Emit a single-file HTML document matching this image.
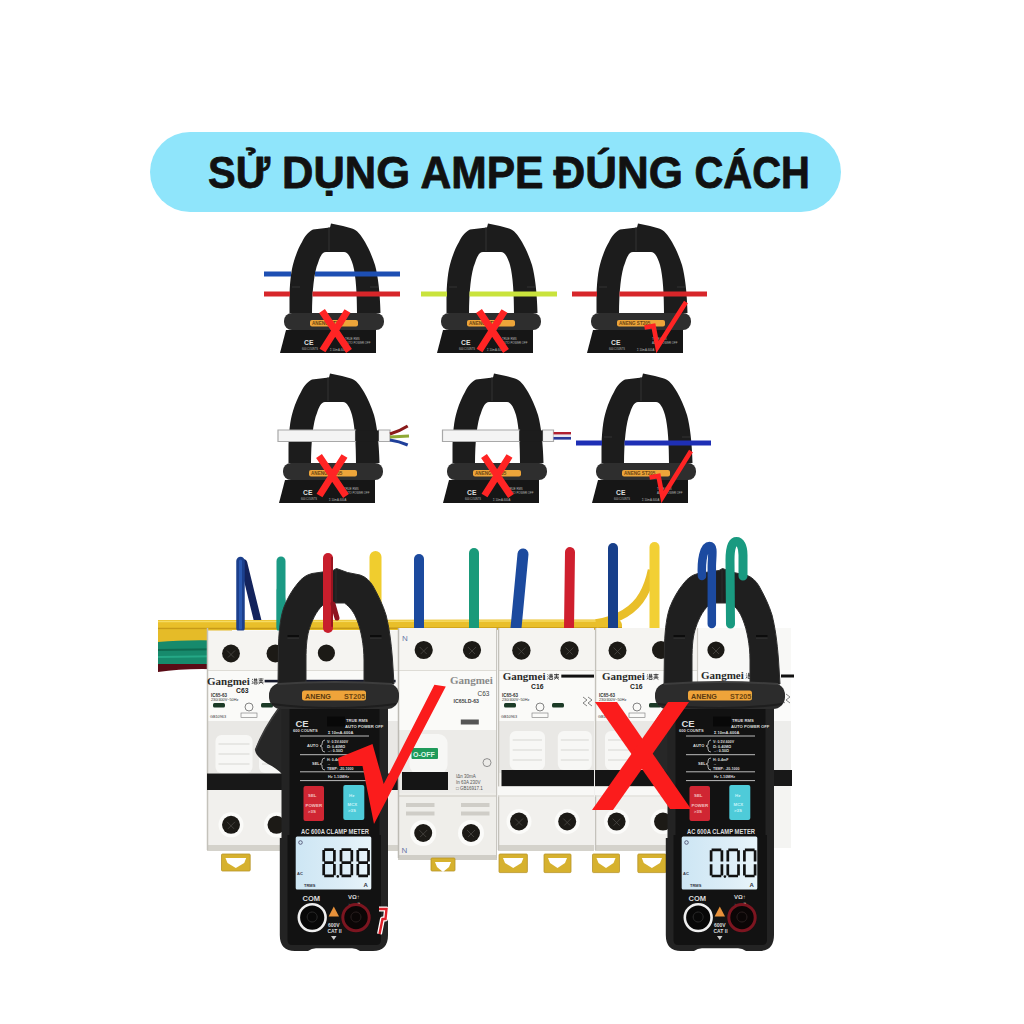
<!DOCTYPE html>
<html>
<head>
<meta charset="utf-8">
<style>
html,body{margin:0;padding:0;background:#fff;}
body{width:1024px;height:1024px;position:relative;overflow:hidden;font-family:"Liberation Sans",sans-serif;}
#pill{position:absolute;left:150px;top:132px;width:691px;height:80px;border-radius:40px;background:#8fe5fb;}
svg{position:absolute;left:0;top:0;}
</style>
</head>
<body>
<div id="pill"></div>
<svg width="1024" height="1024" viewBox="0 0 1024 1024">
<defs>
<linearGradient id="lcdg" x1="0" y1="0" x2="1" y2="0"><stop offset="0" stop-color="#cde6f4"/><stop offset="0.6" stop-color="#dcedf7"/><stop offset="1" stop-color="#e8f4fa"/></linearGradient>
<!-- small clamp icon, page coords of icon 1 -->
<g id="ic">
  <path d="M289.5 313 L289.5 300 C289.5 285 291 270 294 261 C296.5 253 299 247 302 242 C305 236 308 232 313 229.5 L330 227.5 L331 223.5 L343 226 L352 228.5 C357 230 361 235 365 242 C369 249 372 256 375 265 C378 276 380 292 380.5 313 Z" fill="#1c1c1c"/>
  <path d="M312 314 C312 292 314 272 318 263 C320 257 322 252 326 252 L344 252 C348 252 351 258 353 265 C356 276 357 295 357 314 Z" fill="#fff"/>
  <path d="M286 330 L376 330 L376 353 L280 353 Z" fill="#161616"/>
  <rect x="284" y="313" width="100" height="17" rx="8" fill="#2e2e2e"/>
  <rect x="310" y="320" width="48" height="6.5" rx="2" fill="#eda53a"/>
  <text x="312" y="325.3" font-size="4.6" fill="#6a4412" font-weight="bold" font-family="Liberation Sans">ANENG   ST205</text>
  <path d="M329 227 L329 251" stroke="#3a3a3a" stroke-width="0.8"/>
  <path d="M292 287 L300 287 M370 287 L378 287" stroke="#333" stroke-width="1"/>
  <text x="304" y="345" font-size="6.8" fill="#ddd" font-weight="bold" font-family="Liberation Sans">CE</text>
  <text x="302" y="350" font-size="2.6" fill="#bbb" font-family="Liberation Sans">600 COUNTS</text>
  <text x="345" y="340" font-size="2.8" fill="#bbb" font-family="Liberation Sans">TRUE RMS</text>
  <text x="345" y="344" font-size="2.8" fill="#bbb" font-family="Liberation Sans">AUTO POWER OFF</text>
  <text x="330" y="350.5" font-size="2.8" fill="#bbb" font-family="Liberation Sans">Σ 10mA-600A</text>
</g>
</defs>
<g font-family="Liberation Sans" font-weight="bold" font-size="44" fill="#111" stroke="#111" stroke-width="0.8" stroke-linejoin="round">
<text x="208" y="188" textLength="62" lengthAdjust="spacingAndGlyphs">SỬ</text>
<text x="282" y="188" textLength="128" lengthAdjust="spacingAndGlyphs">DỤNG</text>
<text x="420.5" y="188" textLength="123" lengthAdjust="spacingAndGlyphs">AMPE</text>
<text x="553.5" y="188" textLength="129.5" lengthAdjust="spacingAndGlyphs">ĐÚNG</text>
<text x="694.5" y="188" textLength="115.5" lengthAdjust="spacingAndGlyphs">CÁCH</text>
</g>
<!-- row 1 -->
<use href="#ic"/>
<path d="M264 274 H291 M315 274 H400" stroke="#1d4fb3" stroke-width="5"/>
<path d="M264 294 H290 M312.5 294 H400" stroke="#d7262a" stroke-width="5"/>
<use href="#ic" transform="translate(157,0)"/>
<path d="M421 294 H447 M469.5 294 H557" stroke="#c9e33c" stroke-width="5"/>
<use href="#ic" transform="translate(307,0)"/>
<path d="M572 294 H597 M619.5 294 H707" stroke="#d7262a" stroke-width="5"/>
<!-- row 2 -->
<use href="#ic" transform="translate(-1,150)"/>
<use href="#ic" transform="translate(163,150)"/>
<use href="#ic" transform="translate(312,150)"/>
<path d="M576 443 H602 M624.5 443 H711" stroke="#1e2fb5" stroke-width="5"/>


<!-- row 2 cables -->
<g>
<path d="M278 430 H355.5 V441.5 H278 Z M378.5 430 H390 V441.5 H378.5 Z" fill="#f4f4f4" stroke="#a8a8a8" stroke-width="1.2"/><rect x="355.3" y="430.4" width="23.4" height="10.7" fill="#1c1c1c"/>
<path d="M390 434 C397 432 403 429 407.7 426" stroke="#8a1a1a" stroke-width="3" fill="none"/>
<path d="M390 437 L409 436" stroke="#8fa834" stroke-width="3" fill="none"/>
<path d="M390 440 C397 441 403 443 407.7 445" stroke="#1f3f9a" stroke-width="3" fill="none"/>
<path d="M442.5 430 H519.5 V441.5 H442.5 Z M542.5 430 H553.5 V441.5 H542.5 Z" fill="#f4f4f4" stroke="#a8a8a8" stroke-width="1.2"/><rect x="519.3" y="430.4" width="23.4" height="10.7" fill="#1c1c1c"/>
<rect x="553.5" y="432" width="17.5" height="7.5" fill="#e8e8f0"/>
<rect x="553.5" y="432" width="17.5" height="2.4" fill="#b02030"/>
<rect x="553.5" y="437" width="17.5" height="2.6" fill="#2a3a9a"/>
</g>
<!-- small X marks -->
<g stroke="#ff2424" stroke-width="7" fill="none">
<path d="M322 311 L349 351 M347.5 311 L322.5 350.5"/>
<path d="M479 311 L506 351 M504.5 311 L479.5 350.5"/>
<path d="M319 456 L346 496 M344.5 456 L319.5 495.5"/>
<path d="M484 456 L511 496 M509.5 456 L484.5 495.5"/>
</g>
<g stroke="#ff2424" stroke-width="4.6" fill="none" stroke-linejoin="miter" stroke-miterlimit="3">
<path d="M644.5 327.5 L653.5 326 L657.5 347 L686 302"/>
<path d="M649.5 477.5 L658.5 476 L662.5 497 L691 451"/>
</g>
<!-- ================= PHOTO ================= -->
<g id="photo">
<!-- wire bundle left -->
<path d="M158 624 L232 624 L232 664 L158 664 Z" fill="#e5bb28"/>
<path d="M158 642 Q190 639 232 641 L232 664 L158 664 Z" fill="#178a6c"/>
<path d="M158 650 L232 649" stroke="#0f6a50" stroke-width="2"/>
<path d="M158 657 L232 656" stroke="#25a886" stroke-width="2"/>
<path d="M158 664 L232 664 L232 670 Q190 667 158 672 Z" fill="#5a0b16"/>
<path d="M160 628 L232 628" stroke="#c9971a" stroke-width="1.5" stroke-dasharray="3 3"/>
<path d="M243.5 563 L258 622" stroke="#13235c" stroke-width="7.5" stroke-linecap="round" fill="none"/>
<!-- yellow horizontal wire along top -->
<path d="M158 620 L616 619.5 C620 619.5 622 622 622 626 L622 630 L158 630 Z" fill="#e9bf2a"/>
<path d="M158 621.5 L612 621" stroke="#f6db62" stroke-width="1.5"/>
<path d="M158 628.5 L622 628" stroke="#c79a18" stroke-width="1.5"/>
<!-- yellow curve -->
<path d="M596 623.5 C616 620 634 611 643 595 C647 588 650 580 652 570" stroke="#e9bf2a" stroke-width="8.5" fill="none"/>
<!-- vertical wires -->
<g fill="none" stroke-linecap="round">
<path d="M240.5 628 L240.5 561" stroke="#1b3f8c" stroke-width="8.5"/>
<path d="M240.5 628 L240.5 561" stroke="#2a58b0" stroke-width="3"/>
<path d="M281 628 L281 561" stroke="#1b9a84" stroke-width="9"/><path d="M276.6 628 L276.6 590 L282 570 L288.5 628 Z" fill="#1b9a84" stroke="none"/>
<path d="M375.5 628 L375.5 557" stroke="#f0cd2e" stroke-width="12"/>
<path d="M419 628 L419 559" stroke="#1c4a9e" stroke-width="10"/>
<path d="M474 628 L474 553" stroke="#1a9a7a" stroke-width="10"/>
<path d="M516 628 L523 554" stroke="#1c4a9e" stroke-width="11"/>
<path d="M569 628 L570 552" stroke="#cf1f2e" stroke-width="10"/>
<path d="M613 628 L613 548" stroke="#173f8a" stroke-width="10"/>
<path d="M654.5 628 L654.5 547" stroke="#f2d035" stroke-width="10"/>
</g>
<!-- breakers -->
<g id="breakers">
<rect x="207" y="630.5" width="191" height="217.5" fill="#f5f4f1"/><rect x="207" y="670" width="191" height="51" fill="#fafaf8"/><line x1="207" y1="670.5" x2="398" y2="670.5" stroke="#dedcd6" stroke-width="1"/><rect x="207" y="721" width="191" height="52" fill="#e9e8e5"/><rect x="207" y="786" width="191" height="62" fill="#f1f0ed"/><rect x="207" y="845" width="191" height="6" fill="#d4d2cb"/><line x1="207.5" y1="628" x2="207.5" y2="850" stroke="#c4c2bb" stroke-width="1.5"/><rect x="215.5" y="735" width="37" height="38" rx="6" fill="#f7f7f5"/><line x1="218.5" y1="744" x2="249.5" y2="744" stroke="#dcdcd8" stroke-width="1.2"/><line x1="218.5" y1="754" x2="249.5" y2="754" stroke="#dcdcd8" stroke-width="1.2"/><line x1="218.5" y1="764" x2="249.5" y2="764" stroke="#dcdcd8" stroke-width="1.2"/><rect x="259" y="735" width="37" height="38" rx="6" fill="#f7f7f5"/><line x1="262" y1="744" x2="293" y2="744" stroke="#dcdcd8" stroke-width="1.2"/><line x1="262" y1="754" x2="293" y2="754" stroke="#dcdcd8" stroke-width="1.2"/><line x1="262" y1="764" x2="293" y2="764" stroke="#dcdcd8" stroke-width="1.2"/><rect x="303" y="735" width="37" height="38" rx="6" fill="#f7f7f5"/><line x1="306" y1="744" x2="337" y2="744" stroke="#dcdcd8" stroke-width="1.2"/><line x1="306" y1="754" x2="337" y2="754" stroke="#dcdcd8" stroke-width="1.2"/><line x1="306" y1="764" x2="337" y2="764" stroke="#dcdcd8" stroke-width="1.2"/><rect x="347" y="735" width="37" height="38" rx="6" fill="#f7f7f5"/><line x1="350" y1="744" x2="381" y2="744" stroke="#dcdcd8" stroke-width="1.2"/><line x1="350" y1="754" x2="381" y2="754" stroke="#dcdcd8" stroke-width="1.2"/><line x1="350" y1="764" x2="381" y2="764" stroke="#dcdcd8" stroke-width="1.2"/><rect x="207" y="773.5" width="191" height="16.5" fill="#181818"/><rect x="398" y="628" width="99" height="229" fill="#f6f5f2"/><rect x="398" y="670" width="99" height="60" fill="#fafaf8"/><line x1="398" y1="670.5" x2="497" y2="670.5" stroke="#dedcd6" stroke-width="1"/><rect x="398" y="730" width="99" height="63" fill="#ecebe8"/><rect x="409.5" y="734" width="38" height="40" rx="9" fill="#f7f7f5"/><rect x="411.5" y="748" width="26.5" height="11" rx="1" fill="#1f9a5a"/><text x="413" y="756.8" font-family="Liberation Sans" font-weight="bold" font-size="7" fill="#dff5e6">O-OFF</text><rect x="402" y="772" width="46" height="18" fill="#151515"/><rect x="398" y="793" width="99" height="63" fill="#efeeea"/><line x1="398" y1="796" x2="497" y2="796" stroke="#dcdad4" stroke-width="2"/><g fill="#cfcdc7"><rect x="406" y="803" width="28.5" height="4"/><rect x="406" y="811.5" width="28.5" height="4"/><rect x="461" y="803" width="28.5" height="4"/><rect x="461" y="811.5" width="28.5" height="4"/></g><circle cx="423.2" cy="833" r="13" fill="#fbfbf9"/><circle cx="471" cy="833" r="13" fill="#fbfbf9"/><rect x="398" y="855" width="99" height="5" fill="#d0cec7"/><line x1="398.5" y1="628" x2="398.5" y2="858" stroke="#bdbbb4" stroke-width="1.5"/><line x1="496.5" y1="628" x2="496.5" y2="858" stroke="#c8c6c0" stroke-width="1"/><rect x="460.8" y="719.5" width="18" height="5" fill="#555"/><circle cx="487" cy="762.6" r="4" fill="none" stroke="#777" stroke-width="0.8"/><g font-family="Liberation Sans" font-size="4.5" fill="#555"><text x="456" y="778">IΔn 30mA</text><text x="456" y="784">In 63A 230V</text><text x="456" y="790">□  GB16917.1</text></g><g font-family="Liberation Sans" font-size="8" fill="#6a78a8"><text x="402" y="641">N</text><text x="401.5" y="853">N</text></g><text x="477.5" y="696" font-family="Liberation Sans" font-size="6.5" fill="#444">C63</text><text x="453.6" y="703" font-family="Liberation Sans" font-weight="bold" font-size="5.2" fill="#444">IC65LD-63</text><rect x="498" y="628" width="96" height="220" fill="#f5f4f1"/><rect x="498" y="670" width="96" height="51" fill="#fafaf8"/><line x1="498" y1="670.5" x2="594" y2="670.5" stroke="#dedcd6" stroke-width="1"/><rect x="498" y="721" width="96" height="52" fill="#e9e8e5"/><rect x="498" y="786" width="96" height="62" fill="#f1f0ed"/><rect x="498" y="845" width="96" height="6" fill="#d4d2cb"/><line x1="498.5" y1="628" x2="498.5" y2="850" stroke="#c4c2bb" stroke-width="1.5"/><rect x="509.7" y="731" width="35.3" height="39" rx="6" fill="#f7f7f5"/><line x1="512.7" y1="740" x2="542.0" y2="740" stroke="#dcdcd8" stroke-width="1.2"/><line x1="512.7" y1="750" x2="542.0" y2="750" stroke="#dcdcd8" stroke-width="1.2"/><line x1="512.7" y1="760" x2="542.0" y2="760" stroke="#dcdcd8" stroke-width="1.2"/><rect x="557.8" y="731" width="34" height="39" rx="6" fill="#f7f7f5"/><line x1="560.8" y1="740" x2="588.8" y2="740" stroke="#dcdcd8" stroke-width="1.2"/><line x1="560.8" y1="750" x2="588.8" y2="750" stroke="#dcdcd8" stroke-width="1.2"/><line x1="560.8" y1="760" x2="588.8" y2="760" stroke="#dcdcd8" stroke-width="1.2"/><rect x="501.5" y="770" width="92.5" height="16.4" fill="#151515"/><rect x="498" y="786.4" width="96" height="9" fill="#f8f8f6"/><line x1="498" y1="796" x2="594" y2="796" stroke="#dddbd5" stroke-width="1.2"/><rect x="595" y="628" width="102" height="220" fill="#f5f4f1"/><rect x="595" y="670" width="102" height="51" fill="#fafaf8"/><line x1="595" y1="670.5" x2="697" y2="670.5" stroke="#dedcd6" stroke-width="1"/><rect x="595" y="721" width="102" height="52" fill="#e9e8e5"/><rect x="595" y="786" width="102" height="62" fill="#f1f0ed"/><rect x="595" y="845" width="102" height="6" fill="#d4d2cb"/><line x1="595.5" y1="628" x2="595.5" y2="850" stroke="#c4c2bb" stroke-width="1.5"/><rect x="605" y="731" width="35" height="39" rx="6" fill="#f7f7f5"/><line x1="608" y1="740" x2="637" y2="740" stroke="#dcdcd8" stroke-width="1.2"/><line x1="608" y1="750" x2="637" y2="750" stroke="#dcdcd8" stroke-width="1.2"/><line x1="608" y1="760" x2="637" y2="760" stroke="#dcdcd8" stroke-width="1.2"/><rect x="653" y="731" width="35" height="39" rx="6" fill="#f7f7f5"/><line x1="656" y1="740" x2="685" y2="740" stroke="#dcdcd8" stroke-width="1.2"/><line x1="656" y1="750" x2="685" y2="750" stroke="#dcdcd8" stroke-width="1.2"/><line x1="656" y1="760" x2="685" y2="760" stroke="#dcdcd8" stroke-width="1.2"/><rect x="595" y="770" width="102" height="16.4" fill="#151515"/><rect x="595" y="786.4" width="102" height="9" fill="#f8f8f6"/><line x1="595" y1="796" x2="697" y2="796" stroke="#dddbd5" stroke-width="1.2"/><rect x="697" y="628" width="94" height="220" fill="#f8f8f6"/><rect x="697" y="670" width="94" height="51" fill="#fbfbfa"/><rect x="697" y="721" width="94" height="52" fill="#ededeb"/><rect x="697" y="786" width="94" height="62" fill="#f4f4f2"/><line x1="697.5" y1="628" x2="697.5" y2="850" stroke="#cfcdc7" stroke-width="1.2"/><rect x="697" y="770" width="95" height="16" fill="#181818"/><rect x="781" y="674.5" width="13" height="3" fill="#111"/><g fill="#fbfbf9"><circle cx="231" cy="824.8" r="12.5"/><circle cx="276.5" cy="824.8" r="12.5"/><circle cx="519" cy="821.5" r="12.5"/><circle cx="567.2" cy="821.5" r="12.5"/><circle cx="616.6" cy="821.6" r="12.5"/><circle cx="663" cy="821.6" r="12.5"/></g><g fill="#1c1a16"><circle cx="231" cy="653.5" r="8.9"/><circle cx="275.4" cy="653.5" r="8.9"/><circle cx="326.4" cy="653" r="8.6"/><circle cx="373" cy="653" r="8.6"/><circle cx="423.7" cy="650" r="9.1"/><circle cx="472" cy="650" r="9.1"/><circle cx="521.4" cy="650.5" r="9.2"/><circle cx="569.5" cy="650.5" r="9.2"/><circle cx="617.5" cy="650.5" r="9"/><circle cx="661" cy="650" r="9"/><circle cx="716" cy="650" r="8.6"/><circle cx="231" cy="824.8" r="9"/><circle cx="276.5" cy="824.8" r="9"/><circle cx="423.2" cy="833" r="9"/><circle cx="471" cy="833" r="9"/><circle cx="519" cy="821.5" r="9"/><circle cx="567.2" cy="821.5" r="9"/><circle cx="616.6" cy="821.6" r="9"/><circle cx="663" cy="821.6" r="9"/></g><g stroke="#4a4844" stroke-width="0.8" fill="none"><path d="M227 650.5 L234 657.5 M228 657.5 L235 650.5"/><path d="M419.7 647 L426.7 654 M420.7 654 L427.7 647"/><path d="M468 647 L475 654 M469 654 L476 647"/><path d="M517.4 647.5 L524.4 654.5 M518.4 654.5 L525.4 647.5"/><path d="M565.5 647.5 L572.5 654.5 M566.5 654.5 L573.5 647.5"/><path d="M613.5 647.5 L620.5 654.5 M614.5 654.5 L621.5 647.5"/><path d="M712 647 L719 654 M713 654 L720 647"/><path d="M227 821.8 L234 828.8 M228 828.8 L235 821.8"/><path d="M419.2 830 L426.2 837 M420.2 837 L427.2 830"/><path d="M467 830 L474 837 M468 837 L475 830"/><path d="M515 818.5 L522 825.5 M516 825.5 L523 818.5"/><path d="M563.2 818.5 L570.2 825.5 M564.2 825.5 L571.2 818.5"/><path d="M612.6 818.6 L619.6 825.6 M613.6 825.6 L620.6 818.6"/></g><g fill="#d6b12e" stroke="#b8942a" stroke-width="0.8"><rect x="221.5" y="854" width="28.7" height="17" rx="1"/><rect x="431" y="858" width="24" height="13" rx="1"/><rect x="499" y="854" width="28.4" height="18.6" rx="1"/><rect x="544" y="854" width="27" height="18.6" rx="1"/><rect x="592.5" y="854" width="27" height="18.6" rx="1"/><rect x="637.8" y="854" width="28.2" height="18.6" rx="1"/></g><g fill="#fff"><path d="M225.5 858 L246.2 858 L244.2 863 L235.8 868 L227.5 863 Z"/><path d="M435.0 862 L451.0 862 L449.0 867 L443.0 872 L437.0 867 Z"/><path d="M503.0 858 L523.4 858 L521.4 863 L513.2 868 L505.0 863 Z"/><path d="M548.0 858 L567.0 858 L565.0 863 L557.5 868 L550.0 863 Z"/><path d="M596.5 858 L615.5 858 L613.5 863 L606.0 868 L598.5 863 Z"/><path d="M641.8 858 L662.0 858 L660.0 863 L651.9 868 L643.8 863 Z"/></g><g font-family="Liberation Serif" font-weight="bold" fill="#2a2a2a" font-size="11">
<text x="207" y="684.5">Gangmei</text><text x="502.7" y="679.8">Gangmei</text><text x="602" y="680">Gangmei</text><text x="701" y="679">Gangmei</text>
</g>
<path d="M252.0 679l1 0.8M251.8 681l1 0.6M251.9 684l1.2 -1.8M253.9 679.6h3.4M253.7 681h3.8M254.7 678.3v2.7M256.3 678.3v2.7M254.1 682.2h3v1.8h-3zM258.5 679h5M258.9 680.6h4.2M258.5 682.2h5M261.0 678.2v4M261.0 682.2l-2.4 1.8M261.0 682.2l2.4 1.8M547.5 674.5l1 0.8M547.3 676.5l1 0.6M547.4 679.5l1.2 -1.8M549.4 675.1h3.4M549.2 676.5h3.8M550.2 673.8v2.7M551.8 673.8v2.7M549.6 677.7h3v1.8h-3zM554 674.5h5M554.4 676.1h4.2M554 677.7h5M556.5 673.7v4M556.5 677.7l-2.4 1.8M556.5 677.7l2.4 1.8M647.0 674.5l1 0.8M646.8 676.5l1 0.6M646.9 679.5l1.2 -1.8M648.9 675.1h3.4M648.7 676.5h3.8M649.7 673.8v2.7M651.3 673.8v2.7M649.1 677.7h3v1.8h-3zM653.5 674.5h5M653.9 676.1h4.2M653.5 677.7h5M656.0 673.7v4M656.0 677.7l-2.4 1.8M656.0 677.7l2.4 1.8M746.0 673.5l1 0.8M745.8 675.5l1 0.6M745.9 678.5l1.2 -1.8M747.9 674.1h3.4M747.7 675.5h3.8M748.7 672.8v2.7M750.3 672.8v2.7M748.1 676.7h3v1.8h-3zM752.5 673.5h5M752.9 675.1h4.2M752.5 676.7h5M755.0 672.7v4M755.0 676.7l-2.4 1.8M755.0 676.7l2.4 1.8" stroke="#333" stroke-width="0.8" fill="none"/><text x="450" y="683.6" font-family="Liberation Serif" font-weight="bold" font-size="11" fill="#8a8a8a">Gangmei</text><rect x="264.6" y="679.8" width="131" height="2.6" fill="#15182a"/><rect x="561.3" y="674.6" width="32.7" height="3" fill="#111"/><g font-family="Liberation Sans" fill="#333"><text x="236" y="692.5" font-size="6.8" font-weight="bold" fill="#222">C63</text><text x="211" y="696.5" font-size="4.5" font-weight="bold">IC65-63</text><text x="211" y="701" font-size="3.8">230/400V~50Hz</text><rect x="213" y="703" width="12" height="4.5" rx="1.5" fill="#1b3a26"/><rect x="261" y="703" width="12" height="4.5" rx="1.5" fill="#1b3a26"/><circle cx="249" cy="707" r="4" fill="none" stroke="#666" stroke-width="0.8"/><rect x="241" y="713" width="16" height="4.5" fill="none" stroke="#777" stroke-width="0.6"/><text x="210" y="718" font-size="3.8">GB10963</text><text x="531" y="688.5" font-size="6.8" font-weight="bold" fill="#222">C16</text><text x="502" y="696.5" font-size="4.5" font-weight="bold">IC65-63</text><text x="502" y="701" font-size="3.8">230/400V~50Hz</text><rect x="504" y="703" width="12" height="4.5" rx="1.5" fill="#1b3a26"/><rect x="552" y="703" width="12" height="4.5" rx="1.5" fill="#1b3a26"/><circle cx="540" cy="707" r="4" fill="none" stroke="#666" stroke-width="0.8"/><rect x="532" y="713" width="16" height="4.5" fill="none" stroke="#777" stroke-width="0.6"/><text x="501" y="718" font-size="3.8">GB10963</text><text x="630" y="688.5" font-size="6.8" font-weight="bold" fill="#222">C16</text><text x="599" y="696.5" font-size="4.5" font-weight="bold">IC65-63</text><text x="599" y="701" font-size="3.8">230/400V~50Hz</text><rect x="601" y="703" width="12" height="4.5" rx="1.5" fill="#1b3a26"/><rect x="649" y="703" width="12" height="4.5" rx="1.5" fill="#1b3a26"/><circle cx="637" cy="707" r="4" fill="none" stroke="#666" stroke-width="0.8"/><rect x="629" y="713" width="16" height="4.5" fill="none" stroke="#777" stroke-width="0.6"/><text x="598" y="718" font-size="3.8">GB10963</text></g><g stroke="#666" stroke-width="0.8" fill="none"><path d="M583 697 l4 3 -4 3 4 3 M588 697 l4 3 -4 3 4 3"/><path d="M781 694 l4 3 -4 3 4 3 M786 694 l4 3 -4 3 4 3"/></g></g>
</g>

<g id="meter">
<!-- jaw -->
<path fill-rule="evenodd" fill="#1f1f1f" stroke="#2e2e2e" stroke-width="1" d="M278 684 L278.5 645 C279 628 281 615 284 607 C287 599 292 590 298 583 C302 578 306 575 312 573.5 L333 570.5 L336.5 568.5 L347.5 572.5 L360 575 C366 577 370 581 373 586 C378 595 383 605 386 615 C389 627 391 640 392.5 660 L394 684 Z M306 684 L306 660 C306 645 307 635 310 627 C313 618 318 608 325.6 603 L344.4 603 C350 607 354 612 357 620 C361 630 364 645 364 660 L364 684 Z"/>
<path d="M336 570 L336 603" stroke="#2c2c2c" stroke-width="1"/>
<path d="M287.5 636 L299 636 M370 636 L381.5 636" stroke="#0c0c0c" stroke-width="2"/><path d="M287.5 638.2 L299 638.2 M370 638.2 L381.5 638.2" stroke="#343434" stroke-width="1"/>
<!-- trigger lobe -->
<path d="M283 703 C271 719 261 735 255 750 C256 756 262 760 268 764 C274 767 278 770 283 775 Z" fill="#272727"/>
<path d="M281 705 C270 720 261 735 255.5 750" stroke="#3c3c3c" stroke-width="1.6" fill="none"/>
<!-- body -->
<path d="M281.5 704 L388 704 L388 935 Q388 951 373 951 L360 951 Q356.5 948.3 352 948.3 L316 948.3 Q311.5 948.3 308 951 L295 951 Q279.8 951 279.8 935 L279.8 838 L281.5 838 Z" fill="#232323"/>
<path d="M289.5 709 L379.5 709 L379.5 835 L381 835 L381 940 Q381 945 376 945 L292 945 Q287.5 945 287.5 940 L287.5 835 L289.5 835 Z" fill="#121212"/>
<!-- collar -->
<rect x="269" y="683" width="130" height="26" rx="12" fill="#2c2c2c"/>
<path d="M272 703 Q334 711 396 703 L396 705 Q334 713 272 705 Z" fill="#1e1e1e"/>
<path d="M278 684 Q334 680 392 684" stroke="#3d3d3d" stroke-width="2" fill="none"/>
<rect x="302" y="690.5" width="64" height="10" rx="2.5" fill="#efa43a"/>
<text x="305" y="698.5" font-family="Liberation Sans" font-weight="bold" font-size="7.2" fill="#5a3a10">ANENG</text>
<text x="344" y="698.5" font-family="Liberation Sans" font-weight="bold" font-size="7.2" fill="#6a4410">ST205</text>
<!-- face text -->
<g fill="#ddd" font-family="Liberation Sans" font-weight="bold">
<text x="295.5" y="726.5" font-size="9.5">CE</text>
<text x="293" y="732" font-size="4">600 COUNTS</text>
<text x="346" y="722" font-size="4.2">TRUE RMS</text>
<text x="345" y="727.5" font-size="4.2">AUTO POWER OFF</text>
<text x="328" y="734" font-size="4">Σ 10mA-600A</text>
<text x="307" y="747" font-size="4">AUTO</text>
<text x="327" y="743" font-size="3.6">V: 0.5V-600V</text>
<text x="327" y="747.5" font-size="3.6">Ω: 0-40MΩ</text>
<text x="327" y="752" font-size="3.6">→: 0-50Ω</text>
<text x="312" y="765" font-size="4">SEL</text>
<text x="327" y="761" font-size="3.6">H: 0-4mF</text>
<text x="327" y="765" font-size="3.6">→</text>
<text x="327" y="769.5" font-size="3.6">TEMP: -20-1000</text>
<text x="328" y="778" font-size="3.8">Hz 1-10MHz</text>
<text x="301" y="833.5" font-size="7" textLength="68" lengthAdjust="spacingAndGlyphs">AC 600A  CLAMP METER</text>
<text x="302.5" y="900.5" font-size="7.5">COM</text>
<text x="348" y="899" font-size="6">VΩ↑</text>
<text x="346" y="904.5" font-size="4.5">→ ↔ ■</text>
<text x="328" y="927" font-size="5">600V</text>
<text x="327.5" y="933" font-size="5">CAT II</text>
</g>
<g stroke="#cfcfcf" stroke-width="0.9">
<line x1="300" y1="736" x2="369" y2="736"/>
<line x1="300" y1="754.7" x2="369" y2="754.7"/>
<line x1="300" y1="771.8" x2="369" y2="771.8"/>
<line x1="300" y1="780.6" x2="369" y2="780.6"/>
</g>
<path d="M325 740 Q322 740 322 744 L322 745 L320 746 L322 747 L322 749 Q322 752 325 752" stroke="#ccc" stroke-width="0.8" fill="none"/>
<path d="M325 758 Q322 758 322 761 L322 763 L320 764 L322 765 L322 767 Q322 770 325 770" stroke="#ccc" stroke-width="0.8" fill="none"/>
<rect x="327" y="716.5" width="18" height="10" fill="#080808"/>
<!-- buttons -->
<rect x="303.5" y="786" width="20.5" height="35" rx="2" fill="#d02633"/>
<rect x="343.3" y="785" width="21" height="35" rx="2" fill="#4ecbd9"/>
<g fill="#f3c0c0" font-family="Liberation Sans" font-weight="bold" font-size="4.4">
<text x="308" y="797">SEL</text><text x="305.5" y="807">POWER</text><text x="308" y="813">&gt;3S</text>
</g>
<g fill="#c8f4f8" font-family="Liberation Sans" font-weight="bold" font-size="4.4">
<text x="349" y="797">Hz</text><text x="347.5" y="806">MCX</text><text x="348" y="812">&gt;3S</text>
</g>
<!-- LCD -->
<rect x="295.7" y="836.5" width="75.6" height="53" rx="1.5" fill="url(#lcdg)"/>
<g fill="#334" font-family="Liberation Sans" font-weight="bold">
<text x="297" y="875" font-size="4">AC</text>
<text x="304" y="886.5" font-size="4">TRMS</text>
<text x="363.5" y="887" font-size="6">A</text>
</g>
<circle cx="300.5" cy="842.5" r="1.8" fill="none" stroke="#446" stroke-width="0.8"/>
<!-- jacks -->
<circle cx="312.2" cy="917.6" r="13.4" fill="#080808" stroke="#efefef" stroke-width="2.6"/>
<circle cx="356" cy="917.6" r="13.2" fill="#0b0606" stroke="#7c1520" stroke-width="3"/>
<path d="M312.2 912 a5 5 0 1 1 -0.1 0" stroke="#2b2b2b" stroke-width="1" fill="none"/>
<path d="M356 912 a5 5 0 1 1 -0.1 0" stroke="#2b2020" stroke-width="1" fill="none"/>
<path d="M333.8 906.5 L339 916.5 L328.6 916.5 Z" fill="#e8913a"/>
<path d="M331 936 L336.5 936 L333.8 940 Z" fill="#ccc"/>
</g>
<g><path d="M324.2 849.6L333.9 849.6M334.4 850.1L334.4 861.4M334.4 864.0L334.4 875.3M324.2 875.9L333.9 875.9M323.7 864.0L323.7 875.3M323.7 850.1L323.7 861.4M324.2 862.7L333.9 862.7M341.5 849.6L351.2 849.6M351.8 850.1L351.8 861.4M351.8 864.0L351.8 875.3M341.5 875.9L351.2 875.9M341.0 864.0L341.0 875.3M341.0 850.1L341.0 861.4M341.5 862.7L351.2 862.7M358.3 849.6L368.0 849.6M368.5 850.1L368.5 861.4M368.5 864.0L368.5 875.3M358.3 875.9L368.0 875.9M357.8 864.0L357.8 875.3M357.8 850.1L357.8 861.4M358.3 862.7L368.0 862.7" stroke="#111" stroke-width="2.7" fill="none"/><circle cx="337.8" cy="876.4" r="1.3" fill="#111"/></g>
<use href="#meter" transform="translate(386,0)"/>
<g><path d="M711.6 849.8L721.3 849.8M721.9 850.3L721.9 861.6M721.9 864.2L721.9 875.5M711.6 876.0L721.3 876.0M711.1 864.2L711.1 875.5M711.1 850.3L711.1 861.6M728.3 849.8L738.0 849.8M738.5 850.3L738.5 861.6M738.5 864.2L738.5 875.5M728.3 876.0L738.0 876.0M727.8 864.2L727.8 875.5M727.8 850.3L727.8 861.6M744.9 849.8L754.6 849.8M755.1 850.3L755.1 861.6M755.1 864.2L755.1 875.5M744.9 876.0L754.6 876.0M744.4 864.2L744.4 875.5M744.4 850.3L744.4 861.6" stroke="#111" stroke-width="2.7" fill="none"/><circle cx="724.9" cy="876.6" r="1.3" fill="#111"/></g>

<!-- wires in front of jaws -->
<g fill="none" stroke-linecap="round">
<path d="M328 628 L328 558" stroke="#c81e2c" stroke-width="10"/>
<path d="M332 558 L332 626" stroke="#9a1420" stroke-width="2"/>
<path d="M333 604 L337 618" stroke="#8e1420" stroke-width="5"/>
<path d="M702 576 C701 560 704 546 709.5 546 C714 546 712 556 711.8 566 L711.8 624" stroke="#1c4aa0" stroke-width="8.5"/>
<path d="M743 576 L743 555 C743 546 740 541.5 736.5 541.5 C732.5 541.5 730 547 730 560 L730.5 624" stroke="#199a80" stroke-width="9"/>
</g>
<!-- big red check and X -->
<path d="M338 758 L372.5 744 L383.7 784 L434.4 684.8 L445.8 686.4 L374 824 L362.5 766 L339 766 Z" fill="#fb1c1c"/>
<path d="M595 702 L617 702 L691 809 L670 809 Z" fill="#fb1c1c"/>
<path d="M668 702 L689 702 L613 810 L592 810 Z" fill="#fb1c1c"/>
<!-- small red mark near left meter -->
<path d="M379 909 L386.5 909 L385.5 919 L382.5 919 L379.5 934" fill="none" stroke="#fff" stroke-width="5" stroke-linejoin="round"/><path d="M379 909 L386.5 909 L385.5 919 L382.5 919 L379.5 934" fill="none" stroke="#e0202a" stroke-width="2.4"/>
</svg>
</body>
</html>
